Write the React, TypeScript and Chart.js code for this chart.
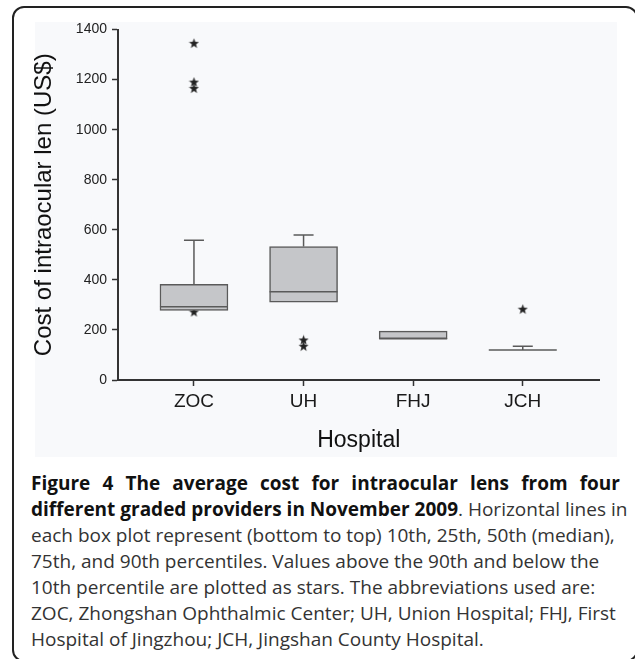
import React, { useEffect, useRef } from 'react';
import { Chart, registerables } from 'chart.js';

Chart.register(...registerables);

// ---- data ----
const categories = ['ZOC', 'UH', 'FHJ', 'JCH'];
const p10 = [278, 311, 165, 120];
const q1 = [278, 311, 165, 120];
const medians = [293, 352, 165, 120];
const q3 = [382, 533, 195, 120];
const p90 = [558, 579, 195, 135];
const outliers: number[][] = [[1345, 1190, 1165, 272], [160, 135], [], [283]];
const yTickValues = [0, 200, 400, 600, 800, 1000, 1200, 1400];
const yTitle = 'Cost of intraocular len (US$)';
const xTitle = 'Hospital';

const FONT = '"Liberation Sans", Arial, Helvetica, sans-serif';
const CANVAS_TOP = -6;
const CANVAS_H = 476;

function makeStar(): HTMLCanvasElement {
  const s = 11;
  const c = document.createElement('canvas');
  c.width = s;
  c.height = s;
  const ctx = c.getContext('2d')!;
  const cx = s / 2, cy = s / 2 + 0.4, R = 5.3, r = 2.2;
  ctx.beginPath();
  for (let k = 0; k < 10; k++) {
    const a = -Math.PI / 2 + (k * Math.PI) / 5;
    const rad = k % 2 === 0 ? R : r;
    const px = cx + rad * Math.cos(a);
    const py = cy + rad * Math.sin(a);
    if (k === 0) ctx.moveTo(px, py); else ctx.lineTo(px, py);
  }
  ctx.closePath();
  ctx.fillStyle = '#222';
  ctx.fill();
  return c;
}

function BoxChart() {
  const ref = useRef<HTMLCanvasElement | null>(null);
  useEffect(() => {
    if (!ref.current) return;
    const star = makeStar();
    const lineCol = '#5a5a5a';

    const starData: { x: number; y: number }[] = [];
    outliers.forEach((arr, i) => arr.forEach((v) => starData.push({ x: i, y: v })));

    const boxData = categories.map((_, i) => ({ x: i, y: [q1[i], q3[i]] }));

    const whiskerData: { x: number; y: number | null }[] = [];
    categories.forEach((_, i) => {
      whiskerData.push({ x: i, y: q3[i] }, { x: i, y: p90[i] }, { x: i, y: null });
      whiskerData.push({ x: i, y: p10[i] }, { x: i, y: q1[i] }, { x: i, y: null });
    });

    const capData: { x: number; y: number }[] = [];
    categories.forEach((_, i) => {
      if (p90[i] > q3[i]) capData.push({ x: i, y: p90[i] });
      if (p10[i] < q1[i]) capData.push({ x: i, y: p10[i] });
    });

    const medianData = categories.map((_, i) => ({ x: i, y: medians[i] }));

    const chart = new Chart(ref.current, {
      type: 'bar',
      data: {
        datasets: [
          {
            type: 'scatter',
            data: starData,
            pointStyle: star as any,
            pointRadius: 5,
            order: 5,
          } as any,
          {
            type: 'bar',
            data: boxData,
            backgroundColor: '#c5c6c9',
            borderColor: lineCol,
            borderWidth: 1.5,
            borderSkipped: false,
            barThickness: 68,
            order: 4,
          } as any,
          {
            type: 'line',
            data: whiskerData,
            borderColor: lineCol,
            borderWidth: 1.5,
            pointRadius: 0,
            spanGaps: false,
            fill: false,
            order: 3,
          } as any,
          {
            type: 'scatter',
            data: capData,
            pointStyle: 'line',
            pointRadius: 10,
            borderColor: lineCol,
            borderWidth: 1.5,
            order: 2,
          } as any,
          {
            type: 'scatter',
            data: medianData,
            pointStyle: 'line',
            pointRadius: 34,
            borderColor: lineCol,
            borderWidth: 1.5,
            order: 1,
          } as any,
        ],
      },
      options: {
        responsive: false,
        animation: false,
        layout: { padding: { left: 20, top: 20, right: 18, bottom: 10 } },
        plugins: { legend: { display: false }, tooltip: { enabled: false } },
        scales: {
          x: {
            type: 'linear',
            min: -0.693,
            max: 3.7,
            offset: false,
            afterBuildTicks: (axis: any) => {
              axis.ticks = categories.map((_, i) => ({ value: i }));
            },
            afterFit: (scale: any) => {
              scale.height = 80;
            },
            ticks: {
              autoSkip: false,
              padding: 4,
              color: '#1a1a1a',
              font: { family: FONT, size: 19 },
              callback: (v: any) => categories[Math.round(Number(v))] ?? '',
            },
            grid: {
              offset: false,
              drawOnChartArea: false,
              drawTicks: true,
              tickLength: 6,
              tickColor: '#333',
              tickWidth: 1.5,
            },
            border: { display: true, color: '#333', width: 2 },
            title: {
              display: true,
              text: xTitle,
              color: '#111',
              font: { family: FONT, size: 23 },
              padding: { top: 0, bottom: 6 },
            },
          },
          y: {
            type: 'linear',
            min: 0,
            max: 1400,
            afterBuildTicks: (axis: any) => {
              axis.ticks = yTickValues.map((v) => ({ value: v }));
            },
            afterFit: (scale: any) => {
              scale.width = 98;
            },
            ticks: {
              padding: 5,
              color: '#222',
              font: { family: FONT, size: 14 },
              callback: (v: any) => String(v),
            },
            grid: {
              drawOnChartArea: false,
              drawTicks: true,
              tickLength: 6,
              tickColor: '#333',
              tickWidth: 1.5,
            },
            border: { display: true, color: '#333', width: 2 },
            title: {
              display: true,
              text: yTitle,
              color: '#111',
              font: { family: FONT, size: 24 },
              padding: { top: 10, bottom: 0 },
            },
          },
        },
      } as any,
    });
    return () => chart.destroy();
  }, []);
  return (
    <canvas
      ref={ref}
      width={635}
      height={CANVAS_H}
      style={{ position: 'absolute', left: 0, top: CANVAS_TOP, width: 635, height: CANVAS_H }}
    />
  );
}

const captionLineStyle: React.CSSProperties = {
  whiteSpace: 'nowrap',
  height: 26,
  lineHeight: '26px',
};

export default function App() {
  return (
    <div style={{ position: 'absolute', left: 0, top: 0, width: 635, height: 659, overflow: 'hidden' }}>
      <div
        style={{
          position: 'absolute',
          left: 12,
          top: 6,
          width: 626,
          height: 656,
          boxSizing: 'border-box',
          border: '2px solid #222',
          borderRadius: 12,
          background: '#fff',
        }}
      />
      <div
        style={{
          position: 'absolute',
          left: 35,
          top: 22,
          width: 582,
          height: 435,
          background: '#f8f9fb',
        }}
      />
      <BoxChart />
      <div
        style={{
          position: 'absolute',
          left: 31,
          top: 470,
          width: 589,
          fontFamily: '"Open Sans", "Noto Sans", sans-serif',
          fontSize: 19,
          color: '#333',
        }}
      >
        <div style={{ ...captionLineStyle, textAlign: 'justify', textAlignLast: 'justify', fontWeight: 700, color: '#111' }}>
          Figure 4 The average cost for intraocular lens from four
        </div>
        <div style={{ ...captionLineStyle, textAlign: 'justify', textAlignLast: 'justify', width: 587 }}>
          <b style={{ color: '#111' }}>different graded providers in November 2009</b>. Horizontal lines in
        </div>
        <div style={captionLineStyle}>each box plot represent (bottom to top) 10th, 25th, 50th (median),</div>
        <div style={captionLineStyle}>75th, and 90th percentiles. Values above the 90th and below the</div>
        <div style={captionLineStyle}>10th percentile are plotted as stars. The abbreviations used are:</div>
        <div style={captionLineStyle}>ZOC, Zhongshan Ophthalmic Center; UH, Union Hospital; FHJ, First</div>
        <div style={captionLineStyle}>Hospital of Jingzhou; JCH, Jingshan County Hospital.</div>
      </div>
    </div>
  );
}
